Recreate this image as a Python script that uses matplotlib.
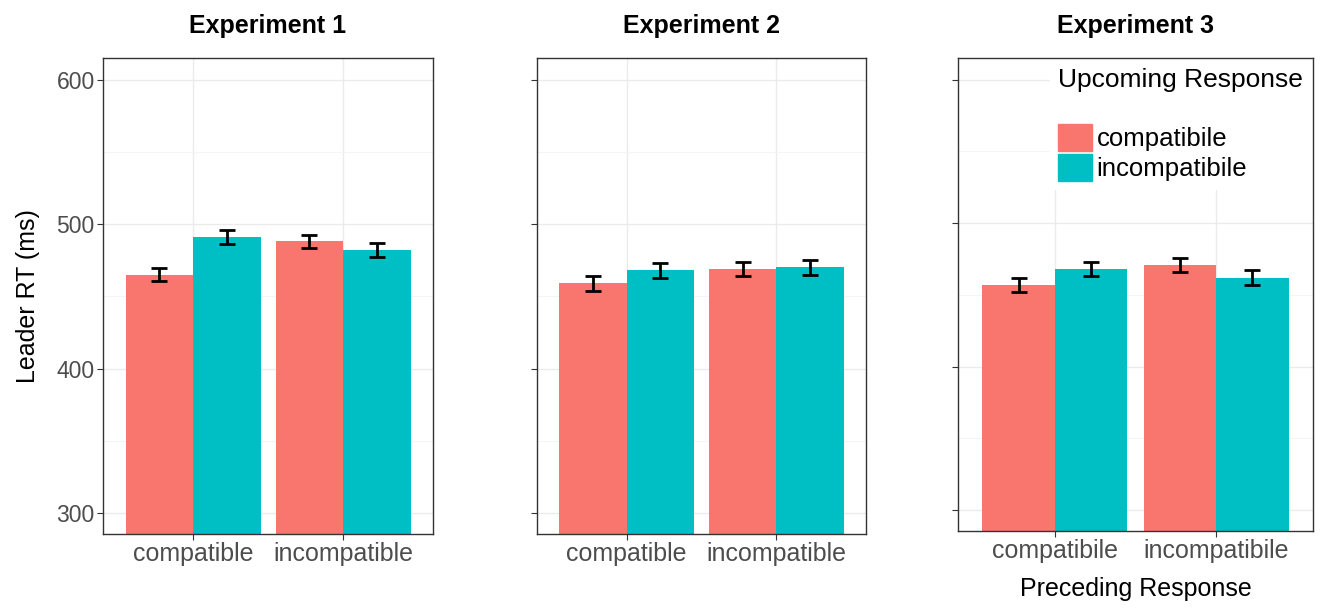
import matplotlib
matplotlib.use("Agg")
import matplotlib.pyplot as plt
import numpy as np
from matplotlib.patches import Patch, Rectangle

plt.rcParams['font.family'] = ['Liberation Sans', 'DejaVu Sans']

# Data
experiments = ["Experiment 1", "Experiment 2", "Experiment 3"]
preceding_labels = [["compatible", "incompatible"],
                    ["compatible", "incompatible"],
                    ["compatibile", "incompatibile"]]
upcoming = ["compatibile", "incompatibile"]

# means per experiment: preceding compatible / incompatible,
# each [upcoming compatible, upcoming incompatible]
exp1_comp = [465, 491]
exp1_incomp = [488, 482]
exp2_comp = [459, 468]
exp2_incomp = [469, 470]
exp3_comp = [457, 468]
exp3_incomp = [471, 462]

exp1_err_comp = [4.5, 5]
exp1_err_incomp = [4.5, 5]
exp2_err_comp = [5, 5]
exp2_err_incomp = [5, 5]
exp3_err_comp = [5, 5]
exp3_err_incomp = [5, 5]

means = [(exp1_comp, exp1_incomp), (exp2_comp, exp2_incomp), (exp3_comp, exp3_incomp)]
errs = [(exp1_err_comp, exp1_err_incomp), (exp2_err_comp, exp2_err_incomp),
        (exp3_err_comp, exp3_err_incomp)]

colors = ["#F8766D", "#00BFC4"]

fig = plt.figure(figsize=(13.21, 6.09), dpi=100)
W, H = 1321, 609
boxes = [(103, 58, 433, 534), (537, 58, 866, 534), (958, 58, 1313, 531)]

for k, (x0, y0, x1, y1) in enumerate(boxes):
    ax = fig.add_axes([x0 / W, 1 - y1 / H, (x1 - x0) / W, (y1 - y0) / H])
    comp, incomp = means[k]
    ecomp, eincomp = errs[k]
    pos = np.array([1, 2])
    w = 0.45
    up_c = [comp[0], incomp[0]]
    up_i = [comp[1], incomp[1]]
    e_c = [ecomp[0], eincomp[0]]
    e_i = [ecomp[1], eincomp[1]]
    ax.bar(pos - w / 2, up_c, width=w, color=colors[0], zorder=2)
    ax.bar(pos + w / 2, up_i, width=w, color=colors[1], zorder=2)
    ax.errorbar(pos - w / 2, up_c, yerr=e_c, fmt="none", ecolor="black",
                elinewidth=2, capsize=5.5, capthick=2, zorder=3)
    ax.errorbar(pos + w / 2, up_i, yerr=e_i, fmt="none", ecolor="black",
                elinewidth=2, capsize=5.5, capthick=2, zorder=3)

    ax.set_ylim(285.5, 615)
    ax.set_xlim(0.4, 2.6)
    ax.set_yticks([300, 400, 500, 600])
    ax.set_yticks([350, 450, 550], minor=True)
    ax.set_xticks(pos)
    ax.set_xticklabels(preceding_labels[k], fontsize=18, color="#4D4D4D")
    ax.tick_params(axis="x", length=4, color="#333333", pad=2)
    ax.tick_params(axis="y", which="major", length=4, color="#333333",
                   labelsize=16.5, labelcolor="#4D4D4D", pad=2)
    ax.tick_params(axis="y", which="minor", length=0)
    if k > 0:
        ax.set_yticklabels([])
    ax.grid(True, which="major", color="#EBEBEB", linewidth=1, zorder=0)
    ax.grid(True, which="minor", axis="y", color="#F5F5F5", linewidth=0.8, zorder=0)
    ax.set_axisbelow(True)
    for s in ax.spines.values():
        s.set_color("#333333")
        s.set_linewidth(1)
    ax.set_title(experiments[k], fontsize=18, fontweight="bold", pad=18)

    if k == 0:
        ax.set_ylabel("Leader RT (ms)", fontsize=18, labelpad=12)
    if k == 2:
        ax.set_xlabel("Preceding Response", fontsize=18, labelpad=10)
        # white area behind the legend
        ax.add_patch(Rectangle((0.26, 0.72), 0.74, 0.28, transform=ax.transAxes,
                               facecolor="white", edgecolor="none", zorder=1))
        ax.text(0.282, 0.953, "Upcoming Response", transform=ax.transAxes,
                fontsize=19, va="center", ha="left", zorder=4)
        handles = [Patch(color=colors[0], label=upcoming[0]),
                   Patch(color=colors[1], label=upcoming[1])]
        leg = ax.legend(handles=handles, loc="upper left", bbox_to_anchor=(0.282, 0.86),
                        fontsize=18.5, frameon=False, handlelength=1.3,
                        handleheight=1.25, handletextpad=0.2, labelspacing=0.08,
                        borderaxespad=0, borderpad=0)

fig.savefig("out.png", dpi=100)
